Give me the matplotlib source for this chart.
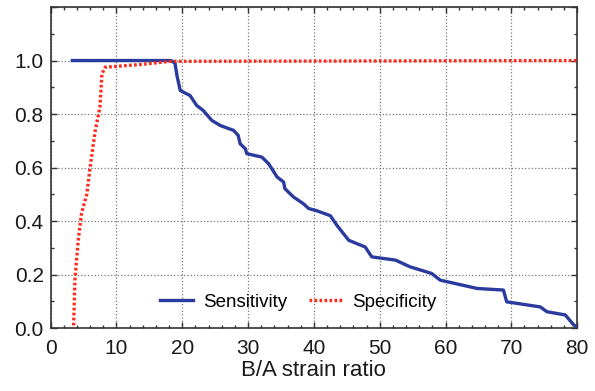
import matplotlib.pyplot as plt
from matplotlib.ticker import MultipleLocator

plt.rcParams['font.family'] = ['Liberation Sans', 'DejaVu Sans']

# Sensitivity curve
sens_x = [3.3, 18.3, 18.9, 19.2, 19.7, 21.2, 22.2, 23.2, 24.5, 25.8, 27.8, 28.5,
          28.8, 29.6, 29.8, 32.1, 33.1, 33.6, 34.4, 35.4, 35.6, 36.9, 38.4, 39.2,
          40.5, 42.5, 43.5, 45.3, 47.8, 48.8, 52.4, 54.6, 57.9, 59.2, 64.8, 68.8,
          69.3, 74.4, 75.4, 78.2, 79.5, 80.0]
sens_y = [1.0, 1.0, 0.99, 0.944, 0.888, 0.869, 0.832, 0.813, 0.776, 0.757, 0.739, 0.72,
          0.689, 0.67, 0.652, 0.639, 0.615, 0.596, 0.565, 0.546, 0.521, 0.49, 0.465, 0.447,
          0.438, 0.42, 0.384, 0.328, 0.303, 0.266, 0.254, 0.229, 0.204, 0.179, 0.148, 0.142,
          0.098, 0.079, 0.061, 0.049, 0.011, 0.005]

# Specificity curve
spec_x = [3.5, 3.7, 4.2, 4.7, 5.5, 6.0, 6.8, 7.5, 7.8, 8.3, 13.6, 18.2, 80.0]
spec_y = [0.01, 0.18, 0.328, 0.428, 0.50, 0.60, 0.74, 0.826, 0.95, 0.975, 0.985, 0.997, 1.0]

fig = plt.figure(figsize=(5.95, 3.91), dpi=100)
ax = fig.add_axes([0.085, 0.161, 0.885, 0.821])

ax.plot(sens_x, sens_y, color='#2b3a9e', lw=2.4, label='Sensitivity', zorder=3)
ax.plot(spec_x, spec_y, color='#ff2a1a', lw=2.4, linestyle=(0, (0.8, 0.7)),
        label='Specificity', zorder=3)

ax.set_xlim(0, 80)
ax.set_ylim(0, 1.2)
ax.xaxis.set_major_locator(MultipleLocator(10))
ax.xaxis.set_minor_locator(MultipleLocator(2))
ax.yaxis.set_minor_locator(MultipleLocator(0.1))
ax.set_yticks([0, 0.2, 0.4, 0.6, 0.8, 1.0, 1.2])
ax.set_yticklabels(['0.0', '0.2', '0.4', '0.6', '0.8', '1.0', ''])

ax.tick_params(which='both', direction='in', top=True, right=True, labelsize=15,
               color='#333333', labelcolor='#1a1a1a')
ax.tick_params(which='major', length=4, width=1)
ax.tick_params(which='minor', length=2.5, width=1)
ax.tick_params(axis='x', pad=8)
ax.tick_params(axis='y', pad=5)
ax.grid(True, which='major', linestyle=':', color='#777777', lw=0.9)
for s in ax.spines.values():
    s.set_linewidth(1.2)
    s.set_color('#333333')

ax.set_xlabel('B/A strain ratio', fontsize=16, labelpad=1, color='#1a1a1a')
ax.legend(loc='center', bbox_to_anchor=(0.47, 0.081), ncol=2, frameon=False,
          fontsize=13.5, handlelength=1.8, columnspacing=1.2, handletextpad=0.5)

fig.savefig('out.png', dpi=100)
